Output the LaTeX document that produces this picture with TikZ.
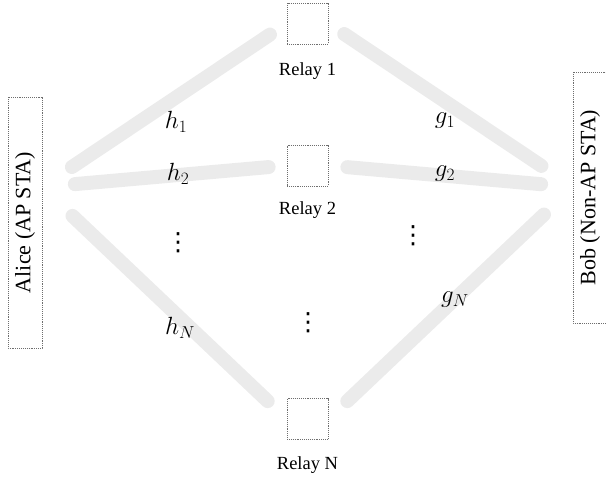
\documentclass[tikz,border=0pt]{standalone}
\usepackage{fontspec}
\setmainfont{Liberation Serif}
\newfontfamily\dotsfont{DejaVu Sans}
\usetikzlibrary{positioning,backgrounds}
\definecolor{chgray}{HTML}{EBEBEB}
\definecolor{boxgray}{HTML}{6E6E6E}
\tikzset{
  relaybox/.style={draw=boxgray, densely dotted, line width=0.9pt, fill=white, minimum size=41pt, inner sep=0pt},
  stabox/.style={draw=boxgray, densely dotted, line width=0.9pt, fill=white, inner sep=0pt, rotate=90, font=\fontsize{22}{24}\selectfont},
  relaytag/.style={inner sep=0pt, font=\fontsize{18.5}{20}\selectfont},
  chanline/.style={draw=chgray, line width=14pt, line cap=round},
  chtag/.style={inner sep=0pt, font=\fontsize{26}{28}\selectfont},
  dotstag/.style={inner sep=0pt, font=\dotsfont\fontsize{25}{27}\selectfont}
}

\begin{document}
\begin{tikzpicture}[x=1pt, y=-1pt]
  \useasboundingbox (0,0) rectangle (606,479);

  % stations
  \node[stabox, minimum width=251pt, minimum height=34pt] (alice) at (25,222.5) {Alice (AP STA)};
  \node[stabox, minimum width=251pt, minimum height=34pt] (bob) at (590,197.5) {Bob (Non-AP STA)};

  % relays
  \node[relaybox] (r1) at (307.5,23.5) {};
  \node[relaybox] (r2) at (307.5,165.5) {};
  \node[relaybox] (rN) at (307.5,419) {};
  \node[relaytag, below=18pt of r1] (r1tag) {Relay 1};
  \node[relaytag, below=15pt of r2] (r2tag) {Relay 2};
  \node[relaytag, below=17pt of rN] (rNtag) {Relay N};

  \coordinate (ahub) at (42,187);
  \coordinate (bhub) at (573,187);

  % channels
  \begin{scope}[on background layer]
    \draw[chanline, shorten <=36pt, shorten >=20pt] (ahub) -- (r1.west);
    \draw[chanline, shorten <=33pt, shorten >=18pt] (ahub) -- (r2.west);
    \draw[chanline, shorten <=42pt, shorten >=26pt] (ahub) -- (rN.west);
    \draw[chanline, shorten <=19pt, shorten >=38pt] (r1.east) -- (bhub);
    \draw[chanline, shorten <=19pt, shorten >=32pt] (r2.east) -- (bhub);
    \draw[chanline, shorten <=26pt, shorten >=40pt] (rN.east) -- (bhub);
  \end{scope}

  % channel labels
  \node[chtag] (h1) at (176,122) {$h_1$};
  \node[chtag] (h2) at (178,174) {$h_2$};
  \node[dotstag] (hdots) at (178,243) {⋮};
  \node[chtag] (hN) at (180,328) {$h_N$};
  \node[chtag] (g1) at (445,121) {$g_1$};
  \node[chtag] (g2) at (445,174) {$g_2$};
  \node[dotstag] (gdots) at (413,236) {⋮};
  \node[chtag] (gN) at (455,300) {$g_N$};
  \node[dotstag] (rdots) at (308,323) {⋮};
\end{tikzpicture}
\end{document}
